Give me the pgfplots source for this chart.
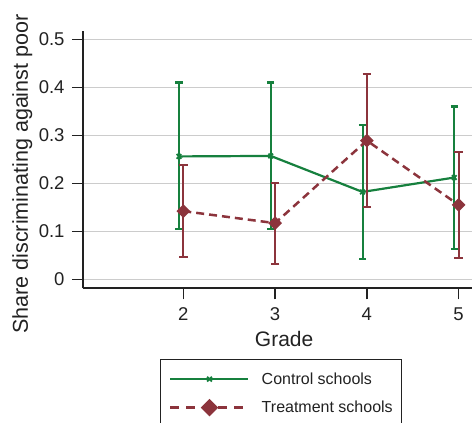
\documentclass[border=0pt]{standalone}
\usepackage{fontspec}
\setmainfont{Liberation Sans}
\usepackage{pgfplots}
\pgfplotsset{compat=1.18}
\usepackage{pgfplotstable}
\definecolor{cgreen}{RGB}{22,128,62}
\definecolor{cred}{RGB}{140,52,60}
\definecolor{txt}{RGB}{34,34,34}
\definecolor{gridc}{RGB}{204,204,204}

\pgfplotstableread{
x y ep em
1.953 0.256 0.154 0.152
2.953 0.257 0.153 0.152
3.953 0.182 0.140 0.140
4.953 0.212 0.148 0.148
}\control
\pgfplotstableread{
x y ep em
2 0.142 0.0955 0.095
3 0.117 0.083 0.085
4 0.289 0.138 0.138
5 0.155 0.111 0.110
}\treat

\pgfplotsset{mylegimg/.style={legend image code/.code={%
  \draw[##1, mark=none] (0bp,0bp) -- (78bp,0bp);
  \path[##1] plot coordinates {(39bp,0bp)};}}}

\begin{document}
\begin{tikzpicture}
\useasboundingbox (-83bp,-134.7bp) rectangle (389bp,288.3bp);
\clip (-83bp,-134.7bp) rectangle (389bp,288.3bp);
\begin{axis}[
  scale only axis, width=402.2bp, height=257.3bp,
  xmin=0.907, xmax=5.29, ymin=-0.01875, ymax=0.5173,
  axis lines=left, axis line style={-, line width=1.8bp, color=txt},
  xtick={2,3,4,5}, ytick={0,0.1,0.2,0.3,0.4,0.5},
  tick style={line width=1.5bp, color=txt}, major tick length=11bp, tick align=outside,
  ymajorgrids, grid style={gridc, line width=1.5bp},
  /pgf/number format/assume math mode=true,
  tick label style={font=\fontsize{18.5bp}{21bp}\selectfont, text=txt},
  yticklabel style={anchor=east, xshift=-4bp},
  xticklabel style={anchor=north, yshift=-5bp},
  xlabel={Grade}, ylabel={Share discriminating against poor},
  xlabel style={at={(axis description cs:0.5,-0.2243)}, anchor=base, font=\fontsize{21bp}{24bp}\selectfont, text=txt},
  ylabel style={at={(axis description cs:-0.1368,0.444)}, anchor=base, font=\fontsize{21.5bp}{24bp}\selectfont, text=txt},
  legend style={at={(0.4923,-0.2748)}, anchor=north, draw=txt, line width=1.2bp,
    inner xsep=9bp, inner ysep=13bp, column sep=12bp, row sep=15bp,
    font=\fontsize{16bp}{18bp}\selectfont, nodes={inner sep=0pt, text=txt}, cells={anchor=west}},
  legend cell align=left,
  every error bar/.append style={line width=2bp, solid},
]
\addplot[forget plot, cgreen, line width=2.2bp, mark=x, mark size=3.3bp, mark options={line width=1.8bp},
  error bars/.cd, y dir=both, y explicit,
  error bar style={line width=2bp}, error mark options={line width=2bp, mark size=3.6bp, rotate=90}]
  table[x=x, y=y, y error plus=ep, y error minus=em] {\control};
\addplot[forget plot, cred, line width=2.5bp, dash pattern=on 8bp off 5bp, mark=square*, mark size=3.6bp, mark options={solid, rotate=45},
  error bars/.cd, y dir=both, y explicit,
  error bar style={line width=2bp, solid}, error mark options={line width=2bp, mark size=4.3bp, solid, rotate=90}]
  table[x=x, y=y, y error plus=ep, y error minus=em] {\treat};
\addlegendimage{mylegimg, cgreen, line width=2.2bp, mark=x, mark size=3.4bp, mark options={line width=1.8bp}}
\addlegendentry{Control schools}
\addlegendimage{mylegimg, cred, line width=2.5bp, dash pattern=on 9bp off 7bp, mark=square*, mark size=4.9bp, mark options={solid, rotate=45}}
\addlegendentry{Treatment schools}
\end{axis}
\end{tikzpicture}
\end{document}
